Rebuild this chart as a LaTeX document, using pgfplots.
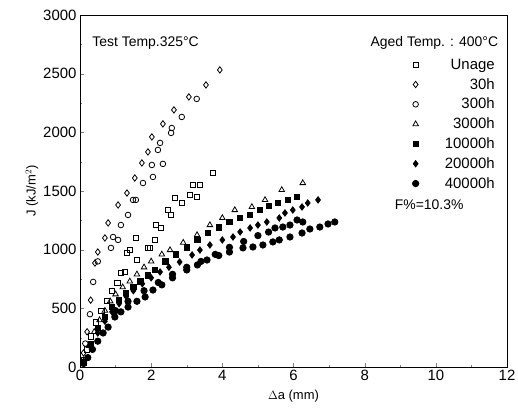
\documentclass[border=0pt]{standalone}
\usepackage{pgfplots}
\pgfplotsset{compat=1.18}
\usepackage{fontspec}
\setmainfont{Liberation Sans}
\begin{document}
\begin{tikzpicture}[x=1bp,y=1bp]
\useasboundingbox (-80bp,-43bp) rectangle (438bp,367bp);
\begin{axis}[
  at={(0,0)}, anchor=south west,
  width=427bp, height=352bp, scale only axis,
  xmin=0, xmax=12, ymin=0, ymax=3000,
  xtick={0,2,...,12}, ytick={0,500,...,3000},
  minor x tick num=1, minor y tick num=1,
  xtick pos=bottom, ytick pos=left, tick align=inside,
  major tick length=4bp, minor tick length=2.5bp,
  /pgf/number format/assume math mode=true,
  /pgf/number format/1000 sep={},
  tick label style={font=\fontsize{15}{18}\selectfont},
  label style={font=\fontsize{13}{16}\selectfont},
  xlabel={$\Delta$a (mm)},
  ylabel={J (kJ/m$^2$)},
  xlabel style={yshift=-2bp},
  ylabel style={yshift=-2bp},
  axis line style={line width=0.9pt},
  every axis plot/.append style={only marks, black, line width=0.8pt},
  legend style={at={(axis cs:11.8,2660)}, anchor=north east, draw=none, fill=none,
    font=\fontsize{15}{16}\selectfont, row sep=3.5bp, column sep=24bp, legend cell align=right},
  legend columns=1,
]
% Unaged
\addplot[mark=square, mark size=2.6bp] coordinates {
(0.1,60) (0.2,150) (0.3,260) (0.45,380) (0.6,480) (0.75,560) (0.9,650) (1.05,720)
(1.15,800) (1.26,810) (1.32,970) (1.4,997) (1.57,1100) (1.6,912) (1.9,1015) (1.97,1015)
(2.1,1083) (2.13,1210) (2.28,1185) (2.47,1338) (2.56,1296) (2.67,1440) (2.86,1398)
(3.09,1466) (3.17,1551) (3.28,1450) (3.37,1551) (3.74,1654)};
\addlegendentry{Unage}
% 30h
\addplot[mark=diamond, mark size=3.2bp] coordinates {
(0.1,120) (0.2,300) (0.3,570) (0.42,886) (0.5,980) (0.7,1100) (0.79,1228) (1.07,1381)
(1.32,1483) (1.54,1611) (1.74,1739) (1.91,1833) (2.02,1961) (2.33,2072) (2.64,2191)
(3.06,2302) (3.54,2404) (3.93,2532)};
\addlegendentry{30h}
% 300h
\addplot[mark=o, mark size=2.8bp] coordinates {
(0.15,200) (0.28,450) (0.37,725) (0.5,900) (0.87,1015) (0.93,1108) (1.07,1083)
(1.15,1210) (1.35,1296) (1.49,1424) (1.57,1424) (1.77,1568) (2.05,1620) (2.02,1722)
(2.19,1850) (2.25,1910) (2.33,1731) (2.56,1995) (2.58,2037) (2.86,2131) (3.28,2285)};
\addlegendentry{300h}
% 3000h
\addplot[mark=triangle, mark size=3.2bp] coordinates {
(0.1,50) (0.25,180) (0.4,300) (0.55,400) (0.7,480) (0.85,560) (1.0,620) (1.2,680)
(1.4,730) (1.6,790) (1.8,850) (2.0,900) (2.3,960) (2.53,997) (2.9,1060) (3.29,1125)
(3.65,1210) (4.0,1270) (4.35,1338) (4.83,1364) (5.2,1424) (5.67,1509) (6.26,1568)};
\addlegendentry{3000h}
% 10000h
\addplot[mark=square*, mark size=2.6bp] coordinates {
(0.1,40) (0.3,200) (0.5,330) (0.7,430) (0.9,510) (1.1,570) (1.3,630) (1.5,680)
(1.7,730) (1.9,780) (2.1,830) (2.4,900) (2.7,960) (3.0,1020) (3.3,1080) (3.6,1140)
(3.9,1190) (4.2,1240) (4.5,1270) (4.78,1296) (5.06,1338) (5.3,1370) (5.56,1398)
(5.84,1424) (6.1,1450)};
\addlegendentry{10000h}
% 20000h
\addplot[mark=diamond*, mark size=3.2bp] coordinates {
(0.1,30) (0.3,170) (0.5,290) (0.7,390) (0.9,470) (1.1,540) (1.3,600) (1.5,650)
(1.75,710) (2.0,760) (2.25,810) (2.5,850) (2.8,895) (3.15,955) (3.37,997) (3.65,1040)
(4.0,1083) (4.3,1108) (4.5,1151) (4.78,1185) (5.0,1210) (5.25,1236) (5.6,1270)
(5.76,1313) (5.98,1338) (6.24,1364) (6.4,1398) (6.69,1424)};
\addlegendentry{20000h}
% 40000h
\addplot[mark=*, mark size=3.2bp] coordinates {
(0.1,30) (0.22,80) (0.35,150) (0.5,220) (0.65,290) (0.79,340) (0.98,426) (1.15,470)
(1.35,511) (1.6,560) (1.83,597) (2.05,656) (2.3,700) (2.6,760) (3.0,827) (3.3,870)
(3.57,912) (3.9,950) (4.2,980) (4.58,1015) (4.86,1023) (5.14,1040) (5.42,1066)
(5.6,1083) (5.9,1108) (6.24,1142) (6.46,1176) (6.74,1193) (6.97,1219) (7.16,1236)
(1.0,480) (1.35,560) (1.8,650) (2.2,720) (2.6,790) (3.0,850) (3.4,900) (3.8,960)
(4.2,1020) (4.6,1070) (5.0,1120) (5.3,1150) (5.48,1185) (5.7,1193) (5.9,1210)
(6.1,1253) (6.26,1236)};
\addlegendentry{40000h}
\node[anchor=west, font=\fontsize{14}{16}\selectfont] at (axis cs:0.25,2762) {Test Temp.325\textdegree C};
\node[anchor=east, font=\fontsize{14}{16}\selectfont] at (axis cs:11.85,2762) {Aged Temp. : 400\textdegree C};
\node[anchor=west, font=\fontsize{14}{16}\selectfont] at (axis cs:8.75,1380) {F\%=10.3\%};
\end{axis}
\end{tikzpicture}
\end{document}
